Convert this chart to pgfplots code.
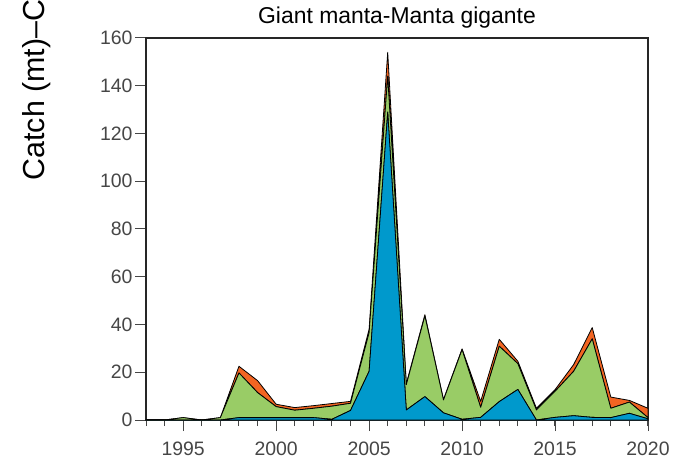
\documentclass[border=0pt]{standalone}
\usepackage{pgfplots}
\pgfplotsset{compat=1.18}
\usepackage{pgfplotstable}
\usepackage{fontspec}
\setmainfont{Liberation Sans}
\definecolor{cblue}{RGB}{0,153,204}
\definecolor{cgreen}{RGB}{153,204,102}
\definecolor{corange}{RGB}{242,101,34}
\definecolor{tickgray}{RGB}{70,70,70}
\pgfplotstableread{
year b g o
1993 0 0 0
1994 0 0 0
1995 0 1 0
1996 0 0 0
1997 0 1 0
1998 1 18.7 2.8
1999 1 10.5 5
2000 1 4.6 1
2001 1 3.1 1.1
2002 1 3.9 1.1
2003 0.3 5.5 1.1
2004 4 3 0.8
2005 20.4 16.2 1.4
2006 129 15 10
2007 4.2 10.6 0.4
2008 9.8 33.8 0.5
2009 3 5.4 0.2
2010 0.3 29.2 0.3
2011 1.1 4.2 2.5
2012 7.7 23.2 2.9
2013 12.8 10.8 1
2014 0 4.2 0.7
2015 1.1 10.9 0.7
2016 1.8 18.6 2.8
2017 1.1 32.9 4.7
2018 1 3.9 4.7
2019 2.8 4.7 0.7
2020 0.5 0.5 3.9
}\datatable
\begin{document}
\begin{tikzpicture}
\begin{axis}[
  at={(146bp,41bp)}, anchor=south west,
  scale only axis, width=502bp, height=382bp,
  xmin=1993, xmax=2020, ymin=0, ymax=160,
  xtick={1995,2000,2005,2010,2015,2020},
  minor xtick={1993,...,2020},
  ytick={0,20,...,160},
  tick pos=left, tick align=outside,
  major tick length=11bp, minor tick length=6bp,
  tick style={line width=1bp, color=tickgray},
  axis line style={line width=1.3bp, color=black!85},
  /pgf/number format/1000 sep={},
  /pgf/number format/assume math mode=true,
  ticklabel style={font=\fontsize{19.5}{21}\selectfont, text=tickgray},
  xticklabel style={yshift=-7bp},
  yticklabel style={xshift=1bp},
  title={Giant manta-Manta gigante},
  title style={font=\fontsize{23}{26}\selectfont, at={(axis description cs:0.5,1)}, anchor=base, yshift=9bp},
  ylabel={Catch (mt)–Captura (t)},
  ylabel style={font=\fontsize{30.5}{33}\selectfont, at={(axis description cs:-0.2012,0.618)}, anchor=base west},
  stack plots=y,
  every axis plot/.append style={draw=black, line width=0.8bp, line join=round},
  clip=false,
]
\addplot[fill=cblue] table[x=year, y=b] {\datatable} \closedcycle;
\addplot[fill=cgreen] table[x=year, y=g] {\datatable} \closedcycle;
\addplot[fill=corange] table[x=year, y=o] {\datatable} \closedcycle;
\end{axis}
\pgfresetboundingbox
\useasboundingbox (0,0) rectangle (678bp,461bp);
\end{tikzpicture}
\end{document}
